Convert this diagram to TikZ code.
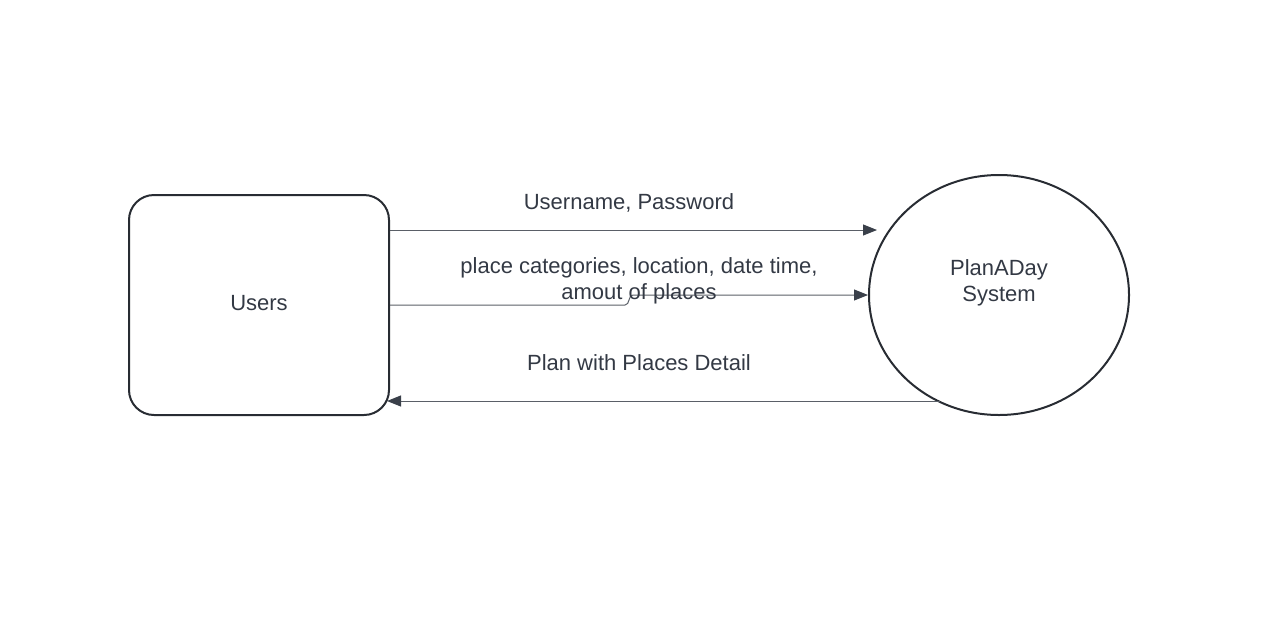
\documentclass[tikz,border=0pt]{standalone}
\usepackage{fontspec}
\setmainfont{Liberation Sans}
\usetikzlibrary{arrows.meta,shapes.geometric}
\definecolor{ink}{HTML}{282C33}
\definecolor{txt}{HTML}{333944}
\definecolor{flow}{HTML}{5A5F67}
\definecolor{tip}{HTML}{3A404A}
\begin{document}
\begin{tikzpicture}[x=1pt,y=-1pt,
  entity/.style={draw=ink,line width=2pt,rounded corners=25pt,minimum width=260pt,minimum height=220pt,inner sep=0pt},
  process/.style={draw=ink,line width=2pt,ellipse,minimum width=260pt,minimum height=240pt,inner sep=0pt},
  lbl/.style={text=txt,font=\fontsize{22}{26}\selectfont,align=center,inner sep=0pt},
  dataflow/.style={draw=flow,line width=1pt,-{Triangle[length=14pt,width=11pt,color=tip]}}]
\useasboundingbox (0,0) rectangle (1273,632);
\node[entity] (users) at (259,305) {};
\node[lbl] (usersText) at (259,303) {Users};
\node[process] (sys) at (999,295) {};
\node[lbl] (sysText) at (999,283) {PlanADay\\System};
% flows
\coordinate (a1) at (390,230);
\coordinate (a2) at (877,230);
\draw[dataflow] (a1) -- (a2);
\coordinate (b1) at (390,305);
\coordinate (b2) at (625,305);
\coordinate (b3) at (633,295);
\coordinate (b4) at (868,295);
\draw[dataflow] (b1) -- (b2) .. controls (630,305) and (628,295) .. (b3) -- (b4);
\coordinate (c1) at (940,401);
\coordinate (c2) at (387,401);
\draw[dataflow] (c1) -- (c2);
\node[lbl] (l1) at (629,203) {Username, Password};
\node[lbl] (l2) at (639,281) {place categories, location, date time,\\amout of places};
\node[lbl] (l3) at (639,363) {Plan with Places Detail};
\end{tikzpicture}
\end{document}
